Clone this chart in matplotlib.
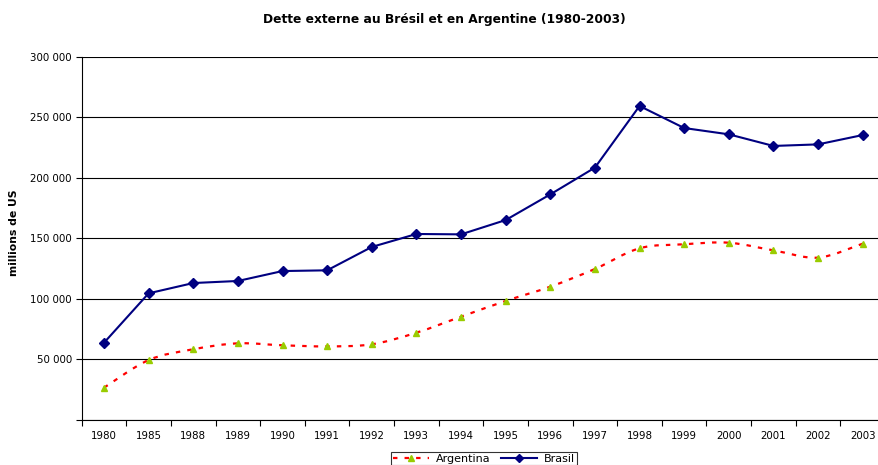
import matplotlib
matplotlib.use("Agg")
import matplotlib.pyplot as plt
from matplotlib.path import Path
from matplotlib.patches import PathPatch
from matplotlib.lines import Line2D
from matplotlib.ticker import FuncFormatter, MultipleLocator, FixedLocator
import numpy as np

plt.rcParams['font.family'] = ['DejaVu Sans']

years = ["1980", "1985", "1988", "1989", "1990", "1991", "1992", "1993", "1994",
         "1995", "1996", "1997", "1998", "1999", "2000", "2001", "2002", "2003"]
brasil = [63800, 104600, 113100, 114800, 123000, 123600, 142900, 153600, 153300,
          165100, 186300, 208400, 259300, 241100, 235900, 226300, 227600, 235300]
argentina = [26700, 49500, 58400, 63300, 61700, 60800, 62500, 72100, 85300,
             98300, 110100, 124700, 141800, 145100, 146400, 140100, 134100, 145600]

fig = plt.figure(figsize=(8.79, 4.65), dpi=100)
ax = fig.add_axes([81.7/879, 1-420/465, (885-81.7)/879, (420-56.7)/465])

x = np.arange(len(years))

# smoothed (Excel-like) Bezier path for Argentina
pts = np.column_stack([x, argentina]).astype(float)
n = len(pts)
verts = [pts[0]]
codes = [Path.MOVETO]
for i in range(n-1):
    p0 = pts[i-1] if i > 0 else pts[i]
    p1 = pts[i]
    p2 = pts[i+1]
    p3 = pts[i+2] if i+2 < n else pts[i+1]
    c1 = p1 + (p2 - p0) / 6.0
    c2 = p2 - (p3 - p1) / 6.0
    verts += [c1, c2, p2]
    codes += [Path.CURVE4]*3
path = Path(verts, codes)
ax.add_patch(PathPatch(path, fill=False, edgecolor='#FF0000', lw=1.6,
                       linestyle=(0, (2, 3.2)), zorder=3))
ax.plot(x, argentina, linestyle='none', marker='^', color='#99CC00',
        markersize=5, markeredgecolor='#99CC00', zorder=4)

ax.plot(x, brasil, color='#000080', lw=1.5, marker='D', markersize=5,
        markeredgecolor='#000080', zorder=5)

ax.set_xlim(-0.5, len(years)-0.5)
ax.set_ylim(0, 300000)
ax.yaxis.set_major_locator(MultipleLocator(50000))
ax.yaxis.set_major_formatter(FuncFormatter(
    lambda v, p: "" if v == 0 else f"{int(v):,}".replace(",", " ")))
ax.set_xticks(x)
ax.set_xticklabels(years, fontsize=7.4)
ax.xaxis.set_minor_locator(FixedLocator(np.arange(-0.5, len(years), 1.0)))
ax.tick_params(axis='x', which='major', length=0, pad=8)
ax.tick_params(axis='x', which='minor', length=4, direction='out', width=0.8)
ax.tick_params(axis='y', length=4, direction='out', width=0.8, labelsize=7.4, pad=3)

ax.grid(axis='y', color='#000000', lw=0.8)
ax.set_axisbelow(True)
for s in ['top', 'right']:
    ax.spines[s].set_visible(False)
for s in ['left', 'bottom']:
    ax.spines[s].set_linewidth(0.8)
    ax.spines[s].set_color('#000000')

fig.text(14/879, 1-233/465, "millions de US", rotation=90, fontsize=7.8,
         fontweight='bold', ha='center', va='center')
fig.text(444/879, 1-19/465, "Dette externe au Brésil et en Argentine (1980-2003)",
         fontsize=8.8, fontweight='bold', ha='center', va='center')

handles = [
    Line2D([], [], color='#FF0000', lw=1.6, linestyle=(0, (2, 3.2)), marker='^',
           markerfacecolor='#99CC00', markeredgecolor='#99CC00', markersize=5),
    Line2D([], [], color='#000080', lw=1.5, marker='D', markersize=4.5),
]
leg = fig.legend(handles, ["Argentina", "Brasil"], loc='upper center',
                 bbox_to_anchor=(484/879, 1-452/465), ncol=2, fontsize=8,
                 frameon=True, fancybox=False, edgecolor='#000000',
                 handlelength=3.3, columnspacing=0.9, handletextpad=0.6,
                 borderpad=0.15, borderaxespad=0)
leg.get_frame().set_linewidth(0.8)

fig.savefig("out.png", dpi=100)
